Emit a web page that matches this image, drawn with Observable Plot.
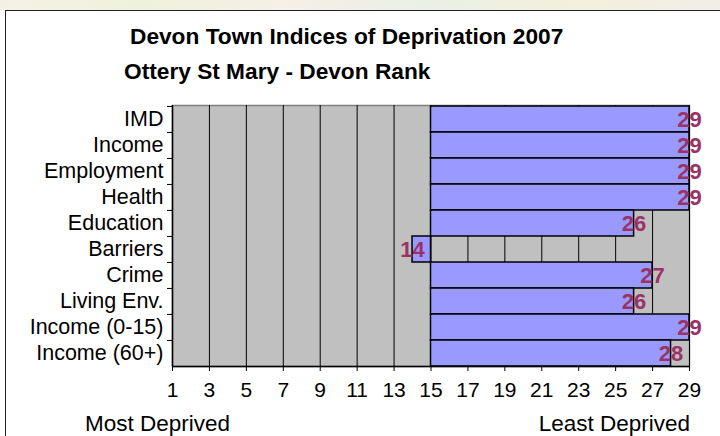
<!DOCTYPE html>
<html>
<head>
<meta charset="utf-8">
<script src="https://cdn.jsdelivr.net/npm/d3@7"></script>
<script src="https://cdn.jsdelivr.net/npm/@observablehq/plot@0.6"></script>
<style>
  body { margin: 0; background: #fff; }
  #wrap { position: relative; width: 720px; height: 436px; overflow: hidden; font-family: "Liberation Sans", Arial, sans-serif; }
  #strip { position: absolute; left: 0; top: 0; width: 720px; height: 10px;
    background: linear-gradient(90deg, #f4f1e4 0%, #eef2dc 20%, #f6efe6 40%, #eaf0e4 60%, #f3f0dc 80%, #f1eee8 100%); }
  #box { position: absolute; left: 5px; top: 10px; width: 720px; height: 430px; border-left: 1.5px solid #222; border-top: 1.5px solid #222; background: #fff; }
  #chart { position: absolute; left: 0; top: 0; }
  .t { position: absolute; white-space: nowrap; color: #000; }
  .bold { font-weight: bold; font-size: 22.7px; }
  .foot { font-size: 22.5px; }
</style>
</head>
<body>
<div id="wrap">
  <div id="strip"></div>
  <div id="box"></div>
  <div id="chart"></div>
  <div class="t bold" style="left:130px; top:23px;">Devon Town Indices of Deprivation 2007</div>
  <div class="t bold" style="left:124px; top:58px;">Ottery St Mary - Devon Rank</div>
  <div class="t foot" style="left:85px; top:411px;">Most Deprived</div>
  <div class="t foot" style="right:30px; top:411px;">Least Deprived</div>
</div>
<script>
const categories = ["IMD", "Income", "Employment", "Health", "Education", "Barriers", "Crime", "Living Env.", "Income (0-15)", "Income (60+)"];
const ranks = [29, 29, 29, 29, 26, 14, 27, 26, 29, 28];
const xTicks = [1, 3, 5, 7, 9, 11, 13, 15, 17, 19, 21, 23, 25, 27, 29];
const baseline = 15;

const data = categories.map((c, i) => ({category: c, rank: ranks[i]}));

const chart = Plot.plot({
  width: 720,
  height: 436,
  marginTop: 105,
  marginBottom: 70,
  marginLeft: 172,
  marginRight: 31,
  style: {fontFamily: "Liberation Sans, Arial, sans-serif", fontSize: "20px", color: "#000", background: "transparent"},
  x: {domain: [1, 29]},
  y: {domain: categories, padding: 0},
  marks: [
    Plot.frame({fill: "#c0c0c0", stroke: "#808080", strokeWidth: 1.5}),
    Plot.ruleX(xTicks, {stroke: "#000", strokeWidth: 1}),
    Plot.barX(data, {y: "category", x1: baseline, x2: "rank", fill: "#9999ff", stroke: "#000", strokeWidth: 1.5}),
    Plot.ruleX([1], {stroke: "#000", strokeWidth: 1.5}),
    Plot.ruleY([categories[categories.length - 1]], {dy: 13.05, stroke: "#000", strokeWidth: 1.5}),
    Plot.axisX({ticks: xTicks, tickSize: 5, tickPadding: 11, fontSize: 21, label: null, stroke: "#000"}),
    Plot.axisY({tickSize: 0, tickPadding: 9, fontSize: 21.5, label: null}),
    Plot.axisY({tickSize: 5, tickFormat: () => "", dy: -13.05, label: null, stroke: "#000"}),
    Plot.text(data, {y: "category", x: "rank", text: d => String(d.rank), fill: "#993366", fontWeight: "bold", fontSize: 22})
  ]
});
document.getElementById("chart").appendChild(chart);
</script>
</body>
</html>
